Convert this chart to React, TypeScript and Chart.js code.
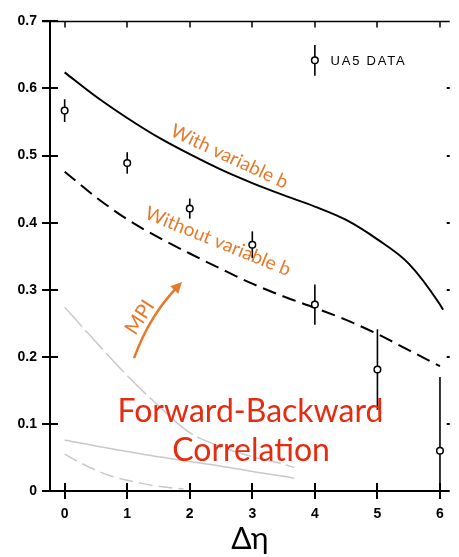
import React, { useEffect, useRef } from 'react';
import { Chart, registerables } from 'chart.js';
Chart.register(...registerables);

// Theory curve: with variable impact parameter b (solid)
const withBX = [0, 0.5, 1, 1.5, 2, 2.5, 3, 3.5, 4, 4.5, 5, 5.5, 6, 6.05];
const withBY = [0.624, 0.588, 0.556, 0.527, 0.502, 0.479, 0.459, 0.441, 0.424, 0.404, 0.375, 0.339, 0.278, 0.27];

// Theory curve: without variable b (dashed)
const withoutBX = [0, 0.5, 1, 1.5, 2, 2.5, 3, 3.5, 4, 4.5, 5, 5.5, 6];
const withoutBY = [0.476, 0.438, 0.405, 0.378, 0.354, 0.331, 0.309, 0.29, 0.273, 0.255, 0.234, 0.21, 0.186];

// Faded grey curves (no MPI)
const greyUpperX = [0, 0.5, 1, 1.5, 2, 2.5, 3, 3.5, 3.67];
const greyUpperY = [0.274, 0.222, 0.172, 0.127, 0.087, 0.066, 0.051, 0.04, 0.035];
const greySolidX = [0, 0.5, 1, 1.5, 2, 2.5, 3, 3.5, 3.67];
const greySolidY = [0.076, 0.067, 0.059, 0.051, 0.044, 0.037, 0.029, 0.022, 0.019];
const greyLowerX = [0, 0.25, 0.5, 0.75, 1, 1.25, 1.5, 1.9];
const greyLowerY = [0.055, 0.042, 0.031, 0.022, 0.016, 0.011, 0.007, 0.003];

// UA5 data
const ua5X = [0, 1, 2, 3, 4, 5, 6];
const ua5Y = [0.567, 0.489, 0.421, 0.367, 0.278, 0.181, 0.06];
const ua5Err = [0.017, 0.016, 0.015, 0.02, 0.03, 0.06, 0.11];

// Legend sample
const legendX = [4];
const legendY = [0.642];
const legendErr = [0.023];

const xTicks = [0, 1, 2, 3, 4, 5, 6];
const yTicks = [0, 0.1, 0.2, 0.3, 0.4, 0.5, 0.6, 0.7];

const ORANGE = '#e8792a';
const RED = '#e52b10';
const GREY = '#c9c9c9';

const pts = (xs: number[], ys: number[]) => xs.map((x, i) => ({ x, y: ys[i] }));

const decor = {
  id: 'decor',
  beforeDatasetsDraw(chart: any) {
    const ctx = chart.ctx;
    const xs = chart.scales.x, ys = chart.scales.y;
    const px = (v: number) => xs.getPixelForValue(v);
    const py = (v: number) => ys.getPixelForValue(v);
    const { left, right, top, bottom } = chart.chartArea;
    ctx.save();
    ctx.strokeStyle = '#000';
    ctx.lineCap = 'butt';
    ctx.lineWidth = 2;
    ctx.beginPath();
    ctx.moveTo(left, top);
    ctx.lineTo(left, bottom + 1);
    ctx.stroke();
    ctx.beginPath();
    ctx.moveTo(left - 8, bottom);
    ctx.lineTo(right, bottom);
    ctx.stroke();
    ctx.lineWidth = 1.5;
    ctx.beginPath();
    ctx.moveTo(left - 8, top);
    ctx.lineTo(right, top);
    ctx.stroke();
    ctx.lineWidth = 2;
    yTicks.forEach((v) => {
      const y = Math.round(py(v));
      ctx.beginPath();
      ctx.moveTo(left - 8, y);
      ctx.lineTo(left + 8, y);
      ctx.stroke();
      if (v > 0 && v < 0.7) {
        ctx.beginPath();
        ctx.moveTo(right - 3, y);
        ctx.lineTo(right, y);
        ctx.stroke();
      }
    });
    xTicks.forEach((v) => {
      const x = Math.round(px(v));
      ctx.beginPath();
      ctx.moveTo(x, bottom - 8);
      ctx.lineTo(x, bottom + 8);
      ctx.stroke();
      ctx.lineWidth = 1.5;
      ctx.beginPath();
      ctx.moveTo(x, top);
      ctx.lineTo(x, top + 6);
      ctx.stroke();
      ctx.lineWidth = 2;
    });
    ctx.lineWidth = 1.6;
    const bars = (xv: number[], yv: number[], ev: number[]) => {
      xv.forEach((x, i) => {
        const lo = Math.max(0, yv[i] - ev[i]);
        ctx.beginPath();
        ctx.moveTo(px(x), py(yv[i] + ev[i]));
        ctx.lineTo(px(x), py(lo));
        ctx.stroke();
      });
    };
    bars(ua5X, ua5Y, ua5Err);
    bars(legendX, legendY, legendErr);
    ctx.restore();
  },
  afterDatasetsDraw(chart: any) {
    const ctx = chart.ctx;
    const xs = chart.scales.x, ys = chart.scales.y;
    const px = (v: number) => xs.getPixelForValue(v);
    const py = (v: number) => ys.getPixelForValue(v);
    const rot = (text: string, x: number, y: number, deg: number, font: string, color: string) => {
      ctx.save();
      ctx.translate(px(x), py(y));
      ctx.rotate((deg * Math.PI) / 180);
      ctx.font = font;
      ctx.fillStyle = color;
      ctx.textAlign = 'center';
      ctx.textBaseline = 'middle';
      ctx.fillText(text, 0, 0);
      ctx.restore();
    };
    rot('With variable b', 2.633, 0.4985, 25, '19px Lato', ORANGE);
    rot('Without variable b', 2.45, 0.372, 22, '19px Lato', ORANGE);
    rot('MPI', 1.2, 0.259, -57, '20px Lato', ORANGE);

    // MPI arrow
    const p0 = { x: px(1.109), y: py(0.198) };
    const c = { x: px(1.352), y: py(0.2606) };
    const p2 = { x: px(1.875), y: py(0.3115) };
    ctx.save();
    ctx.strokeStyle = ORANGE;
    ctx.fillStyle = ORANGE;
    ctx.lineWidth = 2.5;
    const ang = Math.atan2(p2.y - c.y, p2.x - c.x);
    const back = 7;
    const ex = p2.x - back * Math.cos(ang), ey = p2.y - back * Math.sin(ang);
    ctx.beginPath();
    ctx.moveTo(p0.x, p0.y);
    ctx.quadraticCurveTo(c.x, c.y, ex, ey);
    ctx.stroke();
    const hl = 11, hw = 5.5;
    ctx.beginPath();
    ctx.moveTo(p2.x, p2.y);
    ctx.lineTo(p2.x - hl * Math.cos(ang) + hw * Math.sin(ang), p2.y - hl * Math.sin(ang) - hw * Math.cos(ang));
    ctx.lineTo(p2.x - hl * Math.cos(ang) - hw * Math.sin(ang), p2.y - hl * Math.sin(ang) + hw * Math.cos(ang));
    ctx.closePath();
    ctx.fill();
    ctx.restore();

    // Big red title
    ctx.save();
    ctx.font = '32px Lato';
    ctx.fillStyle = RED;
    ctx.textAlign = 'center';
    ctx.textBaseline = 'alphabetic';
    ctx.fillText('Forward-Backward', px(2.97), py(0.103));
    ctx.fillText('Correlation', px(2.98), py(0.045));
    ctx.restore();

    // Legend text
    ctx.save();
    ctx.font = '13px "Liberation Sans"';
    (ctx as any).letterSpacing = '1.8px';
    ctx.fillStyle = '#000';
    ctx.textAlign = 'left';
    ctx.textBaseline = 'alphabetic';
    ctx.fillText('UA5 DATA', px(4.25), py(0.635));
    ctx.restore();
  },
};

export default function App() {
  const ref = useRef<HTMLCanvasElement | null>(null);
  useEffect(() => {
    if (!ref.current) return;
    const lineDs = (label: string, xs: number[], ys: number[], color: string, width: number, dash: number[]) => ({
      label,
      data: pts(xs, ys),
      showLine: true,
      borderColor: color,
      borderWidth: width,
      borderDash: dash,
      pointRadius: 0,
      cubicInterpolationMode: 'monotone' as const,
      fill: false,
    });
    const chart = new Chart(ref.current, {
      type: 'scatter',
      data: {
        datasets: [
          {
            label: 'UA5 DATA',
            data: pts(ua5X, ua5Y),
            pointRadius: 3.3,
            pointBackgroundColor: '#fff',
            pointBorderColor: '#000',
            pointBorderWidth: 1.5,
            showLine: false,
          },
          {
            label: 'legend',
            data: pts(legendX, legendY),
            pointRadius: 3.3,
            pointBackgroundColor: '#fff',
            pointBorderColor: '#000',
            pointBorderWidth: 1.5,
            showLine: false,
          },
          lineDs('With variable b', withBX, withBY, '#000', 2, []),
          lineDs('Without variable b', withoutBX, withoutBY, '#000', 2, [14, 7]),
          lineDs('grey upper', greyUpperX, greyUpperY, GREY, 1.5, [26, 5]),
          lineDs('grey solid', greySolidX, greySolidY, GREY, 1.5, []),
          lineDs('grey lower', greyLowerX, greyLowerY, GREY, 1.5, [14, 6]),
        ],
      },
      options: {
        animation: false,
        responsive: false,
        devicePixelRatio: 1,
        layout: { padding: { top: 10, right: 0, left: 0, bottom: 0 } },
        plugins: { legend: { display: false }, tooltip: { enabled: false } },
        scales: {
          x: {
            type: 'linear',
            min: -0.234375,
            max: 6.15625,
            afterBuildTicks: (s: any) => {
              s.ticks = xTicks.map((v) => ({ value: v }));
            },
            afterFit: (s: any) => {
              s.height = 66;
            },
            grid: { display: false, drawTicks: false, tickLength: 0 },
            border: { display: false },
            ticks: {
              padding: 15,
              color: '#000',
              font: { family: '"Liberation Sans", Arial, sans-serif', size: 14, weight: 'bold' },
              maxRotation: 0,
              callback: (v: any) => String(v),
            },
            title: {
              display: true,
              text: 'Δη',
              color: '#000',
              font: { family: 'Lato, "DejaVu Sans", sans-serif', size: 30 },
              padding: 0,
            },
          },
          y: {
            type: 'linear',
            min: 0,
            max: 0.7,
            afterBuildTicks: (s: any) => {
              s.ticks = yTicks.map((v) => ({ value: v }));
            },
            afterFit: (s: any) => {
              s.width = 50;
            },
            grid: { display: false, drawTicks: false, tickLength: 0 },
            border: { display: false },
            ticks: {
              padding: 13,
              color: '#000',
              font: { family: '"Liberation Sans", Arial, sans-serif', size: 14, weight: 'bold' },
              callback: (v: any) => (v === 0 ? '0' : Number(v).toFixed(1)),
            },
          },
        },
      },
      plugins: [decor],
    });
    return () => chart.destroy();
  }, []);
  return (
    <div style={{ position: 'absolute', left: 0, top: 0, width: 459, height: 557 }}>
      <canvas ref={ref} width={459} height={557} style={{ width: 459, height: 557 }} />
    </div>
  );
}
